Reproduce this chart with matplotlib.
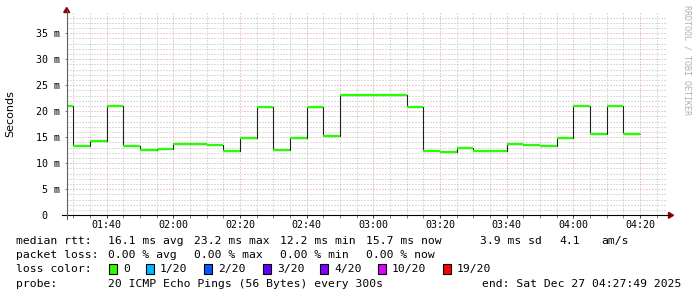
import matplotlib
matplotlib.use("Agg")
import matplotlib.pyplot as plt
from matplotlib.lines import Line2D
from matplotlib.patches import Polygon, Rectangle
from matplotlib.ticker import MultipleLocator, FixedLocator, FuncFormatter

# ---------------- data ----------------
step_starts = ["01:25", "01:30", "01:35", "01:40", "01:45", "01:50", "01:55",
               "02:00", "02:05", "02:10", "02:15", "02:20", "02:25", "02:30",
               "02:35", "02:40", "02:45", "02:50", "02:55", "03:00", "03:05",
               "03:10", "03:15", "03:20", "03:25", "03:30", "03:35", "03:40",
               "03:45", "03:50", "03:55", "04:00", "04:05", "04:10", "04:15"]
step_end = "04:20"
median_ms = [21.1, 13.3, 14.35, 21.1, 13.35, 12.5, 12.7,
             13.8, 13.8, 13.45, 12.45, 14.9, 20.8, 12.5,
             14.9, 20.9, 15.25, 23.2, 23.2, 23.2, 23.2,
             20.8, 12.35, 12.2, 12.9, 12.45, 12.3, 13.8,
             13.5, 13.3, 14.9, 21.0, 15.6, 21.0, 15.7]
x_start = "01:28"
x_stop = "04:28"
y_top_ms = 38.9
x_tick_labels = ["01:40", "02:00", "02:20", "02:40", "03:00", "03:20", "03:40", "04:00", "04:20"]
y_tick_values = [0, 5, 10, 15, 20, 25, 30, 35]
y_tick_labels = ["0", "5 m", "10 m", "15 m", "20 m", "25 m", "30 m", "35 m"]

rtt_label = "median rtt:"
rtt_stats = ["16.1 ms avg", "23.2 ms max", "12.2 ms min", "15.7 ms now", "3.9 ms sd", "4.1", "am/s"]
loss_label = "packet loss:"
loss_stats = ["0.00 % avg", "0.00 % max", "0.00 % min", "0.00 % now"]
color_label = "loss color:"
loss_names = ["0", "1/20", "2/20", "3/20", "4/20", "10/20", "19/20"]
loss_colors = ["#26ff00", "#00b8ff", "#0059ff", "#5e00ff", "#7e00ff", "#dd00ff", "#ff0000"]
probe_label = "probe:"
probe_text = "20 ICMP Echo Pings (56 Bytes) every 300s"
end_text = "end: Sat Dec 27 04:27:49 2025"
watermark = "RRDTOOL / TOBI OETIKER"


def hm(s):
    h, m = s.split(":")
    return int(h) * 60 + int(m)


W, H = 697, 297
fig = plt.figure(figsize=(W / 100, H / 100), dpi=100)
fig.patch.set_facecolor("white")


def fx(x):
    return x / W


def fy(y):
    return 1 - y / H


ax_left, ax_right = 66.7, 666.7
ax_top, ax_bottom = 13.0, 215.3
ax = fig.add_axes([fx(ax_left), fy(ax_bottom), (ax_right - ax_left) / W, (ax_bottom - ax_top) / H])
ax.set_facecolor("white")
for sp in ax.spines.values():
    sp.set_visible(False)

edges = [hm(t) for t in step_starts] + [hm(step_end)]
ax.stairs(median_ms, edges, baseline=None, color="#202020", lw=0.8, zorder=3)
ax.hlines(median_ms, edges[:-1], edges[1:], color=loss_colors[0], lw=1.6, zorder=4)

ax.set_xlim(hm(x_start), hm(x_stop))
ax.set_ylim(0, y_top_ms)

mono = "DejaVu Sans Mono"
ax.xaxis.set_major_locator(FixedLocator([hm(t) for t in x_tick_labels]))
ax.xaxis.set_major_formatter(FuncFormatter(lambda v, p: "%02d:%02d" % (int(round(v)) // 60, int(round(v)) % 60)))
ax.xaxis.set_minor_locator(MultipleLocator(5))
ax.yaxis.set_major_locator(FixedLocator(y_tick_values))
ax.set_yticklabels(y_tick_labels)
ax.yaxis.set_minor_locator(MultipleLocator(1))

ax.grid(which="minor", axis="both", color="#b8b8b8", lw=0.72, linestyle=(0, (1, 2)), zorder=1)
ax.grid(which="major", axis="both", color="#e09898", lw=0.72, linestyle=(0, (1, 2)), zorder=1)
ax.set_axisbelow(True)

ax.tick_params(axis="x", which="major", length=2.2, width=0.72, color="#404040", pad=1.5,
               labelsize=7.2, labelcolor="black")
ax.tick_params(axis="x", which="minor", length=2.2, width=0.72, color="#808080")
ax.tick_params(axis="y", which="major", length=1.5, width=0.72, color="#808080", pad=3.6,
               labelsize=7.2, labelcolor="black")
ax.tick_params(axis="y", which="minor", length=0)
for lab in ax.get_xticklabels() + ax.get_yticklabels():
    lab.set_fontfamily(mono)
ax.yaxis.get_major_ticks()[0].set_pad(3.6 + 8.6)

fig.text(fx(10.5), fy(113.5), "Seconds", rotation=90, ha="center", va="center",
         fontsize=8, family="DejaVu Sans")

# axes lines and arrows
fig.add_artist(Line2D([fx(62), fx(670)], [fy(ax_bottom), fy(ax_bottom)], color="black", lw=0.8))
fig.add_artist(Line2D([fx(ax_left), fx(ax_left)], [fy(219), fy(10)], color="#606060", lw=0.8))
fig.add_artist(Polygon([(fx(668.5), fy(212.3)), (fx(668.5), fy(218.3)), (fx(673.5), fy(215.3))],
                       closed=True, color="#900000", transform=fig.transFigure))
fig.add_artist(Polygon([(fx(63.7), fy(12.5)), (fx(69.7), fy(12.5)), (fx(66.7), fy(7.5))],
                       closed=True, color="#900000", transform=fig.transFigure))

fig.text(fx(687.5), fy(60), watermark, rotation=270, ha="center", va="center",
         fontsize=6, family=mono, color="#b0b0b0")

# legend
lfs = 8.2
ly = [241, 255, 269, 284]
fig.text(fx(16), fy(ly[0]), rtt_label, fontsize=lfs, family=mono, va="center")
for x, s in zip([108, 194, 280, 366, 480, 559, 601], rtt_stats):
    fig.text(fx(x), fy(ly[0]), s, fontsize=lfs, family=mono, va="center")
fig.text(fx(16), fy(ly[1]), loss_label, fontsize=lfs, family=mono, va="center")
for x, s in zip([108, 194, 280, 366], loss_stats):
    fig.text(fx(x), fy(ly[1]), s, fontsize=lfs, family=mono, va="center")
fig.text(fx(16), fy(ly[2]), color_label, fontsize=lfs, family=mono, va="center")
box_x = [109, 146, 204, 263, 320, 378, 443]
for bx, name, col in zip(box_x, loss_names, loss_colors):
    fig.add_artist(Rectangle((fx(bx), fy(ly[2] + 5)), 8 / W, 10 / H, transform=fig.transFigure,
                             facecolor=col, edgecolor="black", lw=0.8))
    fig.text(fx(bx + 14), fy(ly[2]), name, fontsize=lfs, family=mono, va="center")
fig.text(fx(16), fy(ly[3]), probe_label, fontsize=lfs, family=mono, va="center")
fig.text(fx(108), fy(ly[3]), probe_text, fontsize=lfs, family=mono, va="center")
fig.text(fx(681), fy(ly[3]), end_text, fontsize=lfs, family=mono, va="center", ha="right")

fig.savefig("out.png", dpi=100, facecolor="white")
